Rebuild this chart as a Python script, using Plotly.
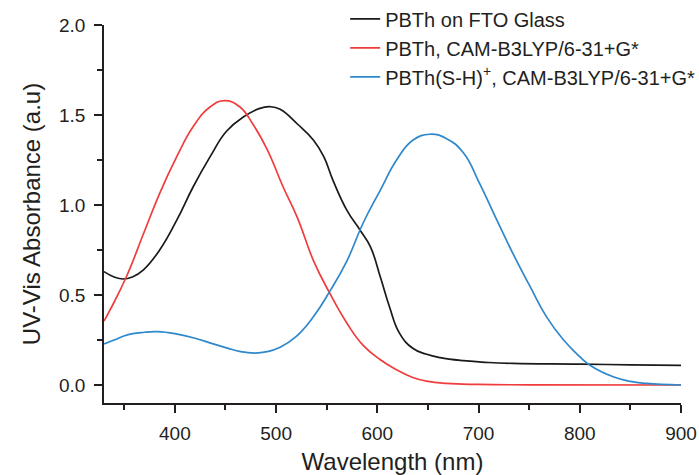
import plotly.graph_objects as go

# Wavelength (nm) / absorbance readings
black_x = [330, 340, 349, 358, 369, 385, 402, 418, 435, 451, 468, 484, 494, 504, 521, 537, 547, 556, 570, 583, 593, 603, 612, 622, 635, 648, 662, 685, 710, 734, 800, 850, 900]
black_y = [0.63, 0.60, 0.589, 0.60, 0.64, 0.75, 0.917, 1.10, 1.27, 1.41, 1.49, 1.537, 1.546, 1.532, 1.45, 1.36, 1.27, 1.14, 0.97, 0.86, 0.77, 0.60, 0.435, 0.287, 0.204, 0.172, 0.152, 0.135, 0.125, 0.12, 0.116, 0.112, 0.109]

red_x = [330, 336, 352, 369, 385, 402, 418, 435, 449, 464, 477, 491, 507, 521, 537, 553, 570, 586, 603, 619, 635, 650, 668, 700, 750, 900]
red_y = [0.355, 0.417, 0.60, 0.84, 1.065, 1.27, 1.435, 1.546, 1.58, 1.546, 1.45, 1.31, 1.10, 0.93, 0.69, 0.51, 0.343, 0.22, 0.14, 0.085, 0.042, 0.02, 0.009, 0.003, 0.001, 0.0]

blue_x = [330, 340, 354, 370, 383, 400, 420, 437, 452, 465, 479, 491, 504, 520, 537, 553, 570, 586, 603, 619, 635, 652, 668, 685, 701, 718, 734, 751, 767, 784, 800, 810, 833, 850, 866, 900]
blue_y = [0.228, 0.25, 0.28, 0.293, 0.296, 0.285, 0.26, 0.23, 0.205, 0.185, 0.177, 0.185, 0.21, 0.27, 0.38, 0.52, 0.69, 0.90, 1.083, 1.25, 1.36, 1.393, 1.37, 1.29, 1.12, 0.917, 0.73, 0.546, 0.38, 0.25, 0.157, 0.11, 0.046, 0.02, 0.009, 0.0]

names = ["PBTh on FTO Glass",
         "PBTh, CAM-B3LYP/6-31+G*",
         "PBTh(S-H)<sup>+</sup>, CAM-B3LYP/6-31+G*"]
colors = ["#1a1a1a", "#f03c3c", "#2f88cc"]

FONT = "Liberation Sans, Arial, sans-serif"
TXT = "#231f20"

fig = go.Figure()
for i, (xs, ys) in enumerate([(black_x, black_y), (red_x, red_y), (blue_x, blue_y)]):
    fig.add_trace(go.Scatter(x=xs, y=ys, mode="lines", name=names[i],
                             line=dict(color=colors[i], width=1.7, shape="spline", smoothing=1.3)))

axis_common = dict(showline=True, linecolor=TXT, linewidth=1.5, ticks="outside",
                   ticklen=8, tickwidth=1.5, tickcolor=TXT, showgrid=False, zeroline=False,
                   tickfont=dict(family=FONT, size=19, color=TXT), mirror=False)

fig.update_layout(
    width=699, height=475,
    margin=dict(l=104, r=18, t=25, b=72, autoexpand=False),
    plot_bgcolor="white", paper_bgcolor="white",
    font=dict(family=FONT, color=TXT),
    xaxis=dict(range=[330, 900], dtick=100, tick0=0,
               minor=dict(ticks="outside", ticklen=5, dtick=50, tickwidth=1.5, tickcolor=TXT),
               title=dict(text="Wavelength (nm)", font=dict(family=FONT, size=24, color=TXT), standoff=16),
               ticklabelstandoff=4,
               **axis_common),
    yaxis=dict(range=[-0.1, 2.0], dtick=0.5, tick0=0, tickformat=".1f",
               minor=dict(ticks="outside", ticklen=5, dtick=0.25, tickwidth=1.5, tickcolor=TXT),
               title=dict(text="UV-Vis Absorbance (a.u)", font=dict(family=FONT, size=24, color=TXT), standoff=12),
               ticklabelstandoff=5,
               **axis_common),
    legend=dict(x=0.418, y=1.068, xanchor="left", yanchor="top",
                font=dict(family=FONT, size=20, color=TXT),
                bgcolor="rgba(0,0,0,0)"),
)

fig.write_html("out.html")
